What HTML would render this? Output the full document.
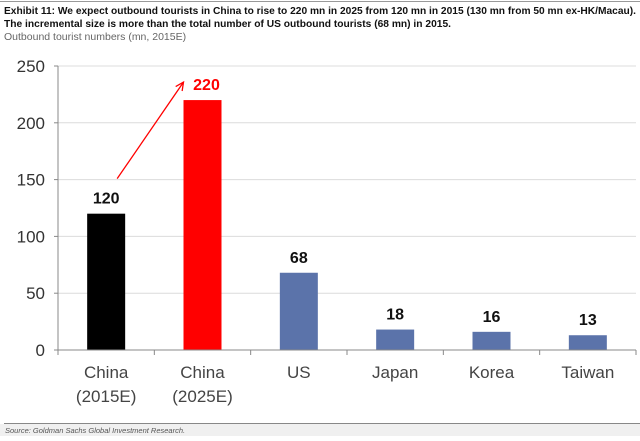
<!DOCTYPE html>
<html><head><meta charset="utf-8"><style>
body{margin:0;background:#fff;width:640px;height:436px;overflow:hidden;font-family:"Liberation Sans",sans-serif}
</style></head><body>
<svg width="640" height="436" xmlns="http://www.w3.org/2000/svg" id="svg">
<line x1="0" y1="1.5" x2="640" y2="1.5" stroke="#999"/>
<text x="4" y="14" font-size="10.5" font-weight="bold" fill="#111" textLength="632" lengthAdjust="spacingAndGlyphs">Exhibit 11: We expect outbound tourists in China to rise to 220 mn in 2025 from 120 mn in 2015 (130 mn from 50 mn ex-HK/Macau).</text>
<text x="4" y="27" font-size="10.5" font-weight="bold" fill="#111" textLength="447" lengthAdjust="spacingAndGlyphs">The incremental size is more than the total number of US outbound tourists (68 mn) in 2015.</text>
<text x="4" y="40" font-size="10.5" fill="#666">Outbound tourist numbers (mn, 2015E)</text>
<g id="plot"></g>
<rect x="0" y="424" width="640" height="12" fill="#f0f0f0"/>
<line x1="4" y1="423.5" x2="640" y2="423.5" stroke="#888"/>
<text x="5" y="433" font-size="7.5" font-style="italic" fill="#555">Source: Goldman Sachs Global Investment Research.</text>
</svg>
<script>
const categories=["China|(2015E)","China|(2025E)","US","Japan","Korea","Taiwan"];
const values=[120,220,68,18,16,13];
const colors=["#000000","#ff0000","#5b73aa","#5b73aa","#5b73aa","#5b73aa"];
const yTicks=[0,50,100,150,200,250];
const NS="http://www.w3.org/2000/svg";
const g=document.getElementById("plot");
const X0=58,X1=636,Y0=350,Y1=66,YMAX=250;
const bw=(X1-X0)/categories.length;
function y(v){return Y0-(v/YMAX)*(Y0-Y1);}
function xc(i){return X0+bw*(i+0.5);}
function el(t,a){const e=document.createElementNS(NS,t);for(const k in a)e.setAttribute(k,a[k]);g.appendChild(e);return e;}
yTicks.forEach(t=>{
  if(t>0){const l=el("line",{x1:X0,x2:X1,y1:y(t),y2:y(t),stroke:"#dcdcdc"});
  
  }
  const tk=el("line",{x1:X0-4,x2:X0,y1:y(t),y2:y(t),stroke:"#888"});
  
  
  const tx=el("text",{x:X0-13,y:y(t)+6,"font-size":"17","text-anchor":"end",fill:"#333"});
  tx.textContent=t;
  
  
});
const ya=el("line",{x1:X0,x2:X0,y1:Y1,y2:Y0,stroke:"#888"});


values.forEach((v,i)=>{
  const r=el("rect",{x:xc(i)-19,y:y(v),width:38,height:Y0-y(v),fill:colors[i]});
  
  
  const lb=el("text",{x:i==1?xc(i)+4:xc(i),y:i==1?y(v)-10:y(v)-10,"font-size":"16","font-weight":"bold","text-anchor":"middle",fill:i==1?"#ff0000":"#111"});
  lb.textContent=v;
  
  
  const parts=categories[i].split("|");
  parts.forEach((p,j)=>{
    const ct=el("text",{x:xc(i),y:378+j*24,"font-size":"17","text-anchor":"middle",fill:"#444"});
    ct.textContent=p;
    
    
  });
});
for(let i=0;i<=categories.length;i++){
  const t=el("line",{x1:X0+bw*i,x2:X0+bw*i,y1:Y0,y2:Y0+5,stroke:"#888"});
  
  
}
const xa=el("line",{x1:X0,x2:X1,y1:Y0,y2:Y0,stroke:"#888"});


// arrow from 2015 label to 2025 label
const ax1=xc(0)+11,ay1=y(values[0])-35,ax2=xc(1)-19,ay2=y(values[1])-18;
const ar=el("line",{x1:ax1,y1:ay1,x2:ax2,y2:ay2,stroke:"#ff0000","stroke-width":"1.3"});


const ang=Math.atan2(ay2-ay1,ax2-ax1);
const hp=[[ax2,ay2],[ax2-9*Math.cos(ang-0.45),ay2-9*Math.sin(ang-0.45)],[ax2-9*Math.cos(ang+0.45),ay2-9*Math.sin(ang+0.45)]];
const ah=el("polyline",{points:`${hp[1]} ${hp[0]} ${hp[2]}`,fill:"none",stroke:"#ff0000","stroke-width":"1.3"});


</script>
</body></html>
